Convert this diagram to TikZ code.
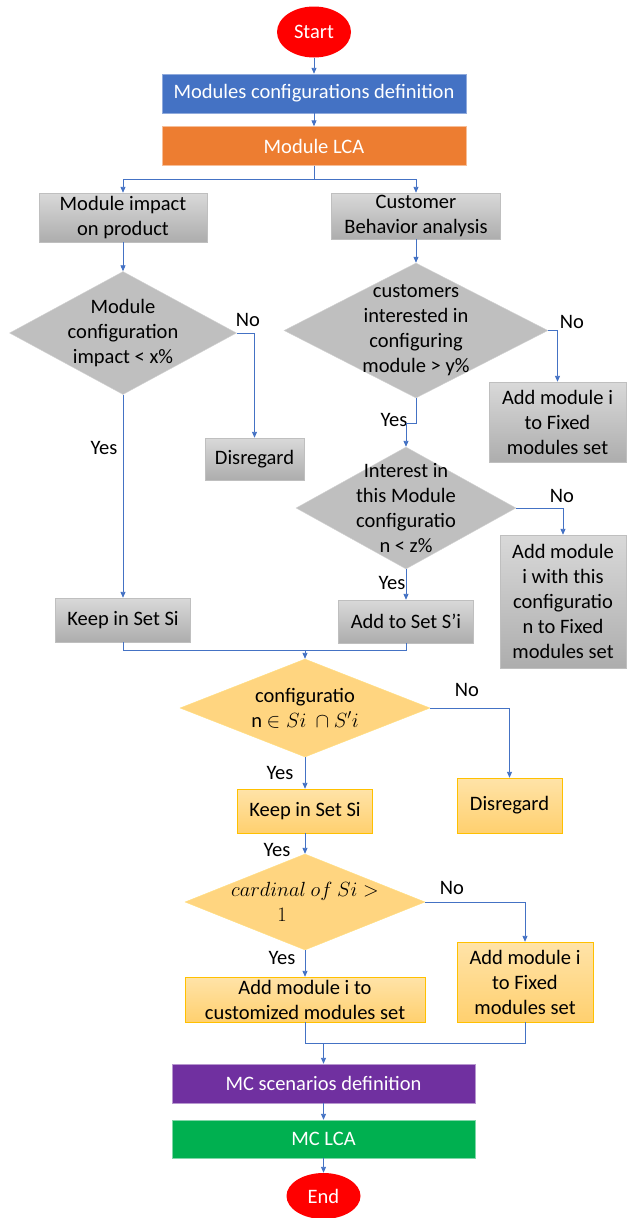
\RequirePackage{fix-cm}
\documentclass[tikz,border=0pt]{standalone}
\usepackage{fontspec}
\setmainfont{Carlito}
\usepackage{tikz}
\usetikzlibrary{shapes.geometric,arrows.meta}

\definecolor{flowblue}{HTML}{4472C4}
\definecolor{floworange}{HTML}{ED7D31}
\definecolor{flowpurple}{HTML}{7030A0}
\definecolor{flowgreen}{HTML}{00B050}
\definecolor{gratop}{HTML}{D9D9D9}
\definecolor{grabot}{HTML}{ADADAD}
\definecolor{gradiam}{HTML}{BFBFBF}
\definecolor{yeltop}{HTML}{FFE3A8}
\definecolor{yelbot}{HTML}{FFD06F}
\definecolor{yeldiam}{HTML}{FFD580}
\definecolor{yelline}{HTML}{FFC000}

\begin{document}
\begin{tikzpicture}[x=1pt, y=-1pt,
    box/.style={rectangle, draw, minimum width=135pt, minimum height=44pt, align=center, inner sep=1pt, font=\fontsize{20.5}{25}\selectfont},
    graybox/.style={box, draw=gradiam, top color=gratop, bottom color=grabot},
    yelbox/.style={box, draw=yelline, top color=yeltop, bottom color=yelbot},
    colbox/.style={box, minimum width=304pt, minimum height=39pt, text=white},
    gdiam/.style={diamond, draw=gradiam!70!white, fill=gradiam, inner sep=0pt},
    ydiam/.style={diamond, draw=yelline!50!white, fill=yeldiam, inner sep=0pt},
    term/.style={ellipse, fill=red, text=white, minimum width=74pt, minimum height=51pt, inner sep=0pt, font=\fontsize{20.5}{25}\selectfont},
    lbl/.style={align=center, inner sep=0pt, font=\fontsize{20.5}{25}\selectfont},
    line/.style={draw=flowblue, line width=0.9pt},
    arr/.style={line, -{Triangle[length=6pt,width=5pt]}}]

    \useasboundingbox (0,0) rectangle (627,1218);

    % Start and first steps
    \node[term] (start) at (314,32) {Start};
    \node[colbox, fill=flowblue, draw=flowblue!60!white] (confdef) at (314,93.5) {Modules configurations definition};
    \node[colbox, fill=floworange, draw=floworange!50!white] (modlca) at (314,146) {Module LCA};

    % Left branch
    \node[graybox, minimum width=168pt, minimum height=49pt] (impact) at (123,217.5) {Module impact\\on product};
    \node[gdiam, minimum width=227pt, minimum height=123pt,
          label={[lbl]center:Module\\configuration\\impact < x\%}] (qimpact) at (123,333) {};
    \node[graybox, minimum width=99pt, minimum height=42pt] (disrega) at (254.5,459) {Disregard};
    \node[graybox] (keepa) at (123,620) {Keep in Set Si};

    % Right branch
    \node[graybox, minimum width=169pt, minimum height=46pt] (behavior) at (416,216) {Customer\\Behavior analysis};
    \node[gdiam, minimum width=264pt, minimum height=135pt,
          label={[lbl]center:customers\\interested in\\configuring\\module > y\%}] (qcust) at (416,330.5) {};
    \node[graybox, minimum width=137pt, minimum height=80pt] (fixeda) at (557.5,422) {Add module i\\to Fixed\\modules set};
    \node[gdiam, minimum width=220pt, minimum height=122pt,
          label={[lbl]center:Interest in\\this Module\\configuratio\\n < z\%}] (qinter) at (406,508) {};
    \node[graybox, minimum width=126pt, minimum height=133pt] (fixedb) at (563,601.5) {Add module\\i with this\\configuratio\\n to Fixed\\modules set};
    \node[graybox, minimum height=43pt] (addsi) at (406,621.5) {Add to Set S'i};

    % Intersection check
    \coordinate (mergea) at (305,650);
    \node[ydiam, minimum width=250pt, minimum height=98pt,
          label={[lbl]center:configuratio\\n $\in Si\ \cap S'i$}] (qset) at (305,708) {};
    \node[yelbox, minimum width=105pt, minimum height=55pt] (disregb) at (509.5,805.5) {Disregard};
    \node[yelbox] (keepb) at (305,811) {Keep in Set Si};

    % Cardinal check
    \node[ydiam, minimum width=240pt, minimum height=96pt,
          label={[lbl]center:$cardinal\ of\ Si >$\\$1$\hspace*{46pt}\null}] (qcard) at (305,902) {};
    \node[yelbox, minimum width=240pt, minimum height=45pt] (custom) at (305,999.5) {Add module i to\\customized modules set};
    \node[yelbox, minimum width=136pt, minimum height=80pt] (fixedc) at (525,982) {Add module i\\to Fixed\\modules set};

    % MC steps and end
    \coordinate (mergeb) at (323.5,1043);
    \node[colbox, minimum width=303pt, fill=flowpurple, draw=flowpurple!50!white] (mcdef) at (323.5,1083.5) {MC scenarios definition};
    \node[colbox, minimum width=303pt, minimum height=38pt, fill=flowgreen, draw=flowgreen!50!white] (mclca) at (323.5,1139) {MC LCA};
    \node[term, minimum height=46pt] (finish) at (323.5,1196) {End};

    % Yes / No labels
    \node[lbl] (noa) at (248,320) {No};
    \node[lbl] (yesa) at (104,448) {Yes};
    \node[lbl] (nob) at (572,322) {No};
    \node[lbl] (yesb) at (394,420) {Yes};
    \node[lbl] (noc) at (562,496) {No};
    \node[lbl] (yesc) at (392,583) {Yes};
    \node[lbl] (nod) at (467,690) {No};
    \node[lbl] (yesd) at (280,773) {Yes};
    \node[lbl] (yese) at (277,850) {Yes};
    \node[lbl] (noe) at (452,888) {No};
    \node[lbl] (yesf) at (282,958) {Yes};

    % Connections
    \draw[arr] (start) -- (confdef);
    \draw[arr] (confdef) -- (modlca);
    \draw[arr] (modlca.south) -- ++(0,14) -| (impact.north);
    \draw[arr] (modlca.south) -- ++(0,14) -| (behavior.north);
    \draw[arr] (impact) -- (qimpact);
    \draw[arr] (behavior) -- (qcust);
    \draw[arr] (qimpact.east) -| (disrega.north);
    \draw[arr] (qimpact.south) -- (keepa.north);
    \draw[arr] (qcust.east) -| (fixeda.north);
    \draw[arr] (qcust.south) -- ++(0,25) -| (qinter.north);
    \draw[arr] (qinter.east) -| (fixedb.north);
    \draw[arr] (qinter.south) -- (addsi.north);
    \draw[line] (keepa.south) |- (mergea);
    \draw[line] (addsi.south) |- (mergea);
    \draw[arr] (mergea) -- (qset.north);
    \draw[arr] (qset.east) -| (disregb.north);
    \draw[arr] (qset.south) -- (keepb.north);
    \draw[arr] (keepb.south) -- (qcard.north);
    \draw[arr] (qcard.east) -| (fixedc.north);
    \draw[arr] (qcard.south) -- (custom.north);
    \draw[line] (custom.south) |- (mergeb);
    \draw[line] (fixedc.south) |- (mergeb);
    \draw[arr] (mergeb) -- (mcdef.north);
    \draw[arr] (mcdef) -- (mclca);
    \draw[arr] (mclca) -- (finish);
\end{tikzpicture}
\end{document}
